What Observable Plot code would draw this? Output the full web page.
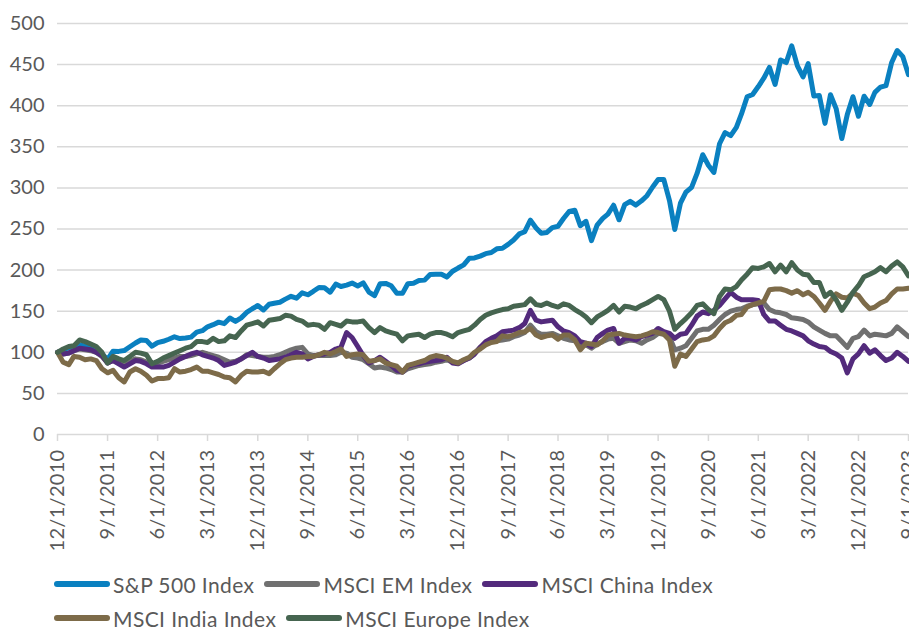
<!DOCTYPE html>
<html>
<head>
<meta charset="utf-8">
<script src="https://cdn.jsdelivr.net/npm/d3@7"></script>
<script src="https://cdn.jsdelivr.net/npm/@observablehq/plot@0.6"></script>
<style>
  html, body { margin: 0; padding: 0; background: #fff; }
  body { position: relative; width: 909px; height: 629px; overflow: hidden; font-family: Lato, "Liberation Sans", sans-serif; }
  #legend { position: absolute; top: 572px; left: 54px; width: 720px; display: flex; flex-wrap: wrap; column-gap: 10px; row-gap: 10px; }
  .item { display: flex; align-items: center; height: 24px; font-size: 21px; letter-spacing: 0.4px; color: #595959; white-space: nowrap; }
  .sw { width: 56px; height: 6px; border-radius: 3px; margin-right: 3px; }
</style>
</head>
<body>
<div id="chart"></div>
<div id="legend"></div>
<script>
// Monthly index levels, 12/1/2010 = 100, through 9/1/2023
const seriesNames = ["S&P 500 Index", "MSCI EM Index", "MSCI China Index", "MSCI India Index", "MSCI Europe Index"];
const seriesColors = ["#0a80c0", "#707070", "#532a7c", "#7d6b49", "#466550"];

const sp500 = [
  100,
  102.4, 105.9, 105.9, 109.0, 107.8, 106.0, 103.9, 98.2, 91.3, 101.3, 101.1, 102.1,
  106.7, 111.3, 115.0, 114.3, 107.4, 111.8, 113.4, 115.9, 118.9, 116.7, 117.4, 118.5,
  124.6, 126.3, 131.0, 133.6, 136.7, 134.9, 141.7, 137.6, 141.9, 148.5, 153.0, 156.9,
  151.5, 158.4, 159.7, 160.9, 164.7, 168.1, 165.8, 172.4, 170.0, 174.2, 178.9, 178.4,
  173.1, 183.0, 180.1, 181.8, 184.2, 180.6, 184.4, 173.3, 169.0, 183.3, 183.8, 180.9,
  171.9, 171.7, 183.3, 184.0, 187.3, 187.8, 194.7, 195.0, 195.0, 191.5, 198.6, 202.5,
  206.3, 214.5, 214.8, 217.0, 220.0, 221.4, 225.9, 226.6, 231.3, 236.7, 244.0, 246.7,
  260.8, 251.2, 244.8, 245.8, 251.7, 253.3, 262.7, 271.3, 272.8, 254.1, 259.3, 235.9,
  254.8, 263.0, 268.1, 278.9, 261.2, 279.6, 283.6, 279.1, 284.3, 290.5, 301.1, 310.2,
  310.1, 284.6, 249.4, 281.4, 294.8, 300.7, 317.6, 340.4, 327.5, 318.8, 353.7, 367.3,
  363.6, 373.6, 390.0, 410.8, 413.7, 423.3, 433.4, 446.6, 425.8, 455.6, 452.5, 472.8,
  448.4, 435.0, 451.1, 411.8, 412.5, 378.5, 413.4, 396.5, 360.0, 389.2, 410.9, 387.2,
  411.5, 401.5, 416.2, 422.7, 424.5, 452.6, 467.1, 459.7, 437.8
];

const msciEM = [
  100, 98, 99, 102, 104, 103, 102, 100, 95, 87,
  90, 88, 84, 89, 92, 91, 88, 83, 87, 89,
  91, 93, 95, 95, 96, 98, 100, 98, 96, 94,
  91, 88, 89, 92, 97, 96, 95, 94, 94, 95,
  97, 100, 103, 105, 106, 98, 96, 96, 96, 96,
  97, 100, 99, 94, 93, 91, 86, 81, 82, 81,
  79, 76, 76, 80, 82, 84, 85, 86, 88, 89,
  91, 88, 87, 90, 93, 98, 106, 111, 113, 114,
  115, 116, 119, 121, 124, 133, 125, 122, 122, 123,
  120, 117, 115, 114, 108, 109, 105, 110, 113, 116,
  117, 111, 113, 115, 114, 111, 115, 118, 123, 122,
  119, 103, 105, 108, 117, 126, 128, 128, 133, 140,
  146, 150, 152, 153, 156, 158, 159, 160, 152, 149,
  148, 146, 142, 141, 140, 137, 131, 127, 123, 120,
  120, 113, 106, 117, 119, 127, 120, 122, 121, 120,
  123, 131, 125, 119
];

const msciChina = [
  100, 98, 99, 102, 105, 104, 103, 100, 96, 87,
  90, 86, 82, 86, 90, 89, 86, 82, 82, 82,
  84, 88, 92, 95, 98, 100, 97, 95, 93, 90,
  84, 86, 88, 92, 96, 100, 95, 93, 90, 91,
  92, 94, 97, 100, 98, 92, 95, 97, 98, 100,
  104, 106, 124, 118, 107, 96, 87, 90, 94, 89,
  84, 78, 76, 83, 85, 86, 88, 89, 90, 91,
  94, 87, 86, 90, 93, 98, 106, 113, 117, 120,
  125, 126, 127, 130, 135, 151, 139, 137, 138, 139,
  131, 126, 124, 120, 113, 111, 107, 118, 123, 127,
  129, 111, 117, 117, 115, 119, 121, 123, 129, 125,
  123, 117, 122, 123, 133, 144, 149, 147, 151, 157,
  165, 173, 167, 164, 164, 164, 163, 146, 138, 138,
  133, 128, 126, 123, 120, 114, 110, 107, 106, 101,
  98, 93, 75, 92, 98, 108, 99, 103, 96, 90,
  93, 100, 95, 89
];

const msciIndia = [
  100, 88, 85, 95, 94, 91, 92, 90, 80, 75,
  78, 69, 64, 76, 80, 77, 72, 65, 68, 68,
  69, 80, 76, 77, 79, 82, 77, 77, 75, 73,
  70, 69, 64, 72, 77, 76, 76, 77, 74, 80,
  86, 91, 93, 94, 94, 95, 95, 97, 100, 98,
  101, 104, 95, 97, 98, 97, 89, 90, 92, 87,
  85, 83, 76, 84, 86, 88, 90, 94, 96, 95,
  93, 89, 87, 91, 94, 100, 104, 109, 112, 113,
  120, 119, 121, 124, 125, 129, 121, 118, 120, 121,
  116, 121, 121, 115, 103, 111, 110, 109, 114, 121,
  122, 123, 121, 120, 119, 120, 122, 125, 124, 122,
  115, 83, 98, 95, 104, 113, 115, 116, 120, 129,
  136, 139, 145, 146, 155, 158, 160, 162, 176, 177,
  177, 175, 172, 175, 170, 173, 168, 160, 151, 162,
  171, 167, 166, 172, 169, 160, 153, 155, 160, 163,
  171, 177, 177, 178
];

const msciEurope = [
  100, 104, 107, 108, 115, 113, 110, 107, 100, 87,
  95, 92, 90, 95, 100, 99, 97, 86, 89, 93,
  96, 99, 102, 105, 107, 113, 113, 112, 117, 113,
  114, 120, 118, 126, 133, 135, 137, 132, 139, 140,
  141, 145, 144, 140, 138, 133, 134, 133, 128, 136,
  134, 132, 138, 137, 137, 138, 130, 124, 130, 126,
  124, 122, 114, 120, 121, 122, 118, 122, 124, 124,
  122, 119, 124, 126, 128, 133, 140, 145, 148, 150,
  152, 153, 156, 157, 158, 165, 158, 157, 160, 157,
  155, 159, 157, 152, 148, 143, 136, 143, 147, 151,
  157, 149, 156, 155, 153, 157, 160, 164, 168, 164,
  150, 128, 135, 141, 148, 157, 159, 152, 147, 168,
  177, 176, 180, 188, 195, 203, 202, 204, 208, 198,
  206, 198, 209, 200, 195, 194, 185, 185, 168, 173,
  164, 151, 161, 173, 181, 192, 195, 198, 203, 198,
  205, 210, 204, 193
];

const yTicks = [0, 50, 100, 150, 200, 250, 300, 350, 400, 450, 500];
const xTickEvery = 9; // months between date labels

const seriesValues = [sp500, msciEM, msciChina, msciIndia, msciEurope];
const months = d3.range(sp500.length).map(i => new Date(Date.UTC(2010, 11 + i, 1)));
const data = seriesNames.flatMap((name, k) =>
  seriesValues[k].map((v, i) => ({date: months[i], value: v, series: name})));
const xTicks = d3.range(0, months.length, xTickEvery).map(i => months[i]);
const fmt = d => `${d.getUTCMonth() + 1}/${d.getUTCDate()}/${d.getUTCFullYear()}`;

const chart = Plot.plot({
  width: 909,
  height: 560,
  marginLeft: 57,
  marginRight: 1,
  marginTop: 23,
  marginBottom: 126,
  style: {fontFamily: "Lato, sans-serif", fontSize: "20px", color: "#595959", background: "#fff", overflow: "hidden"},
  x: {type: "utc", domain: [months[0], months[months.length - 1]]},
  y: {domain: [0, 500]},
  color: {domain: seriesNames, range: seriesColors},
  marks: [
    Plot.gridY(yTicks.filter(t => t > 0), {stroke: "#d9d9d9", strokeOpacity: 1, strokeWidth: 1.5}),
    Plot.ruleY([0], {stroke: "#d9d9d9", strokeWidth: 1.5}),
    Plot.axisY(yTicks, {anchor: "left", tickSize: 0, tickPadding: 13, fontSize: 20, label: null, fill: "#595959"}),
    Plot.axisX(xTicks, {anchor: "bottom", tickSize: 7, tickPadding: 8, stroke: "#d9d9d9", strokeWidth: 1.5, strokeOpacity: 1,
      tickRotate: -90, tickFormat: fmt, label: null, fontSize: 20, fill: "#595959"}),
    Plot.line(data, {x: "date", y: "value", z: "series", stroke: "series", strokeWidth: 5,
      strokeLinejoin: "round", strokeLinecap: "round"})
  ]
});
d3.select(chart).selectAll('g[aria-label="x-axis tick label"] text').style("letter-spacing", "0.3px");
document.getElementById("chart").appendChild(chart);

const legend = d3.select("#legend");
seriesNames.forEach((name, k) => {
  const it = legend.append("div").attr("class", "item");
  it.append("div").attr("class", "sw").style("background", seriesColors[k]);
  it.append("span").text(name);
});
</script>
</body>
</html>
